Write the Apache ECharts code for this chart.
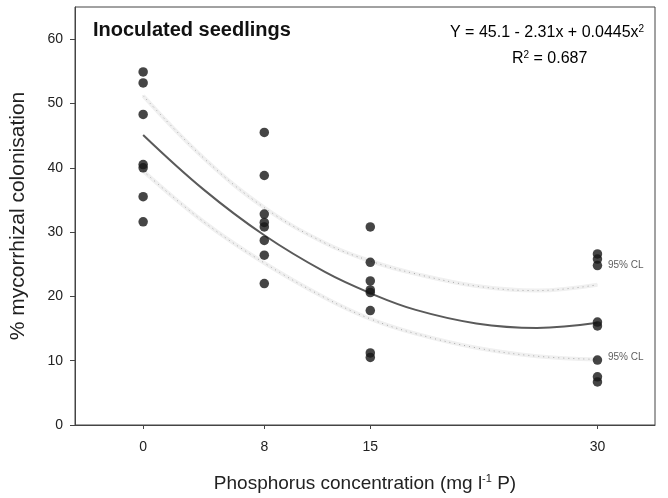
<!DOCTYPE html>
<html>
<head>
<meta charset="utf-8">
<script src="https://cdn.jsdelivr.net/npm/echarts@6/dist/echarts.min.js"></script>
<style>html,body{margin:0;padding:0;background:#fff}#c{width:668px;height:498px}</style>
</head>
<body>
<div id="c"></div>
<script>
const xTicks = [0, 8, 15, 30];
const yTicks = [0, 10, 20, 30, 40, 50, 60];
const xLevels = [0, 8, 15, 30];
const p0 = [54.9, 53.2, 48.3, 40.5, 40.0, 35.5, 31.6];
const p8 = [45.5, 38.8, 32.8, 31.5, 30.8, 28.7, 26.4, 22.0];
const p15 = [30.8, 25.3, 22.4, 21.0, 20.6, 17.8, 11.2, 10.5];
const p30 = [26.6, 25.8, 24.8, 16.0, 15.4, 10.1, 7.5, 6.7];
const curveX = [0, 4, 8, 12, 15, 18, 22, 26, 30];
const fitY = [45.1, 36.6, 29.5, 23.8, 20.5, 17.9, 15.8, 15.1, 15.9];
const upperY = [51.2, 41.5, 33.8, 28.3, 25.5, 23.5, 21.6, 20.9, 21.8];
const lowerY = [39.5, 31.6, 25.2, 19.8, 16.5, 14.2, 12.0, 10.7, 10.2];
const clLabels = [[30, 24.9], [30, 10.6]];
const titleText = 'Inoculated seedlings';

const font = 'Liberation Sans, Arial, sans-serif';
const groups = [p0, p8, p15, p30];
const pts = [];
groups.forEach((g, i) => g.forEach(v => pts.push([xLevels[i], v])));
const pair = ys => curveX.map((x, i) => [x, ys[i]]);

const chart = echarts.init(document.getElementById('c'));
chart.setOption({
  animation: false,
  backgroundColor: '#fff',
  grid: { left: 75, right: 13, top: 7, bottom: 73, show: true, borderColor: '#444', borderWidth: 1 },
  graphic: [
    { type: 'text', left: 93, top: 20, style: { text: titleText, font: 'bold 20px ' + font, fill: '#111' } },
    { type: 'text', left: 450, top: 24, style: {
      text: '{n|Y = 45.1 - 2.31x + 0.0445x}{s|2}', rich: {
        n: { fontFamily: font, fontSize: 16, color: '#222' },
        s: { fontFamily: font, fontSize: 10, color: '#222', padding: [0, 0, 8, 0] } } } },
    { type: 'text', left: 512, top: 50, style: {
      text: '{n|R}{s|2}{n| = 0.687}', rich: {
        n: { fontFamily: font, fontSize: 16, color: '#222' },
        s: { fontFamily: font, fontSize: 10, color: '#222', padding: [0, 0, 8, 0] } } } }
  ],
  xAxis: {
    type: 'value', min: -4.5, max: 33.8,
    name: '{n|Phosphorus concentration (mg l}{s|-1}{n| P)}',
    nameLocation: 'middle', nameGap: 48,
    nameTextStyle: { rich: {
      n: { fontFamily: font, fontSize: 19, color: '#222' },
      s: { fontFamily: font, fontSize: 11, color: '#222', padding: [0, 0, 10, 0] } } },
    axisLine: { show: true, onZero: false, lineStyle: { color: '#444', width: 1 } },
    axisTick: { show: true, inside: false, length: 4, customValues: xTicks, lineStyle: { color: '#444' } },
    axisLabel: { customValues: xTicks, margin: 15, fontFamily: font, fontSize: 14, color: '#222' },
    splitLine: { show: false }
  },
  yAxis: {
    type: 'value', min: 0, max: 65,
    name: '% mycorrhizal colonisation', nameLocation: 'middle', nameGap: 46,
    nameTextStyle: { fontFamily: font, fontSize: 21, color: '#222' },
    axisLine: { show: true, onZero: false, lineStyle: { color: '#444', width: 1 } },
    axisTick: { show: true, inside: false, length: 5, customValues: yTicks, lineStyle: { color: '#444' } },
    axisLabel: { customValues: yTicks, margin: 12, fontFamily: font, fontSize: 14, color: '#222' },
    splitLine: { show: false }
  },
  series: [
    { type: 'line', data: pair(upperY), smooth: 0.4, symbol: 'none', lineStyle: { color: '#f0f0f0', width: 4 }, z: 1 },
    { type: 'line', data: pair(upperY), smooth: 0.4, symbol: 'none', lineStyle: { color: '#a8a8a8', width: 1, type: [1, 4] }, z: 2 },
    { type: 'line', data: pair(lowerY), smooth: 0.4, symbol: 'none', lineStyle: { color: '#f0f0f0', width: 4 }, z: 1 },
    { type: 'line', data: pair(lowerY), smooth: 0.4, symbol: 'none', lineStyle: { color: '#a8a8a8', width: 1, type: [1, 4] }, z: 2 },
    { type: 'line', data: pair(fitY), smooth: 0.4, symbol: 'none', lineStyle: { color: '#5a5a5a', width: 2 }, z: 3 },
    { type: 'scatter', data: pts, symbolSize: 9.5, itemStyle: { color: '#171717' }, z: 4 },
    { type: 'scatter', data: clLabels, symbolSize: 1, itemStyle: { color: 'rgba(0,0,0,0)' }, z: 5, silent: true,
      label: { show: true, position: 'right', distance: 10, formatter: '95% CL', fontFamily: font, fontSize: 10, color: '#333' } }
  ]
});
</script>
</body>
</html>
